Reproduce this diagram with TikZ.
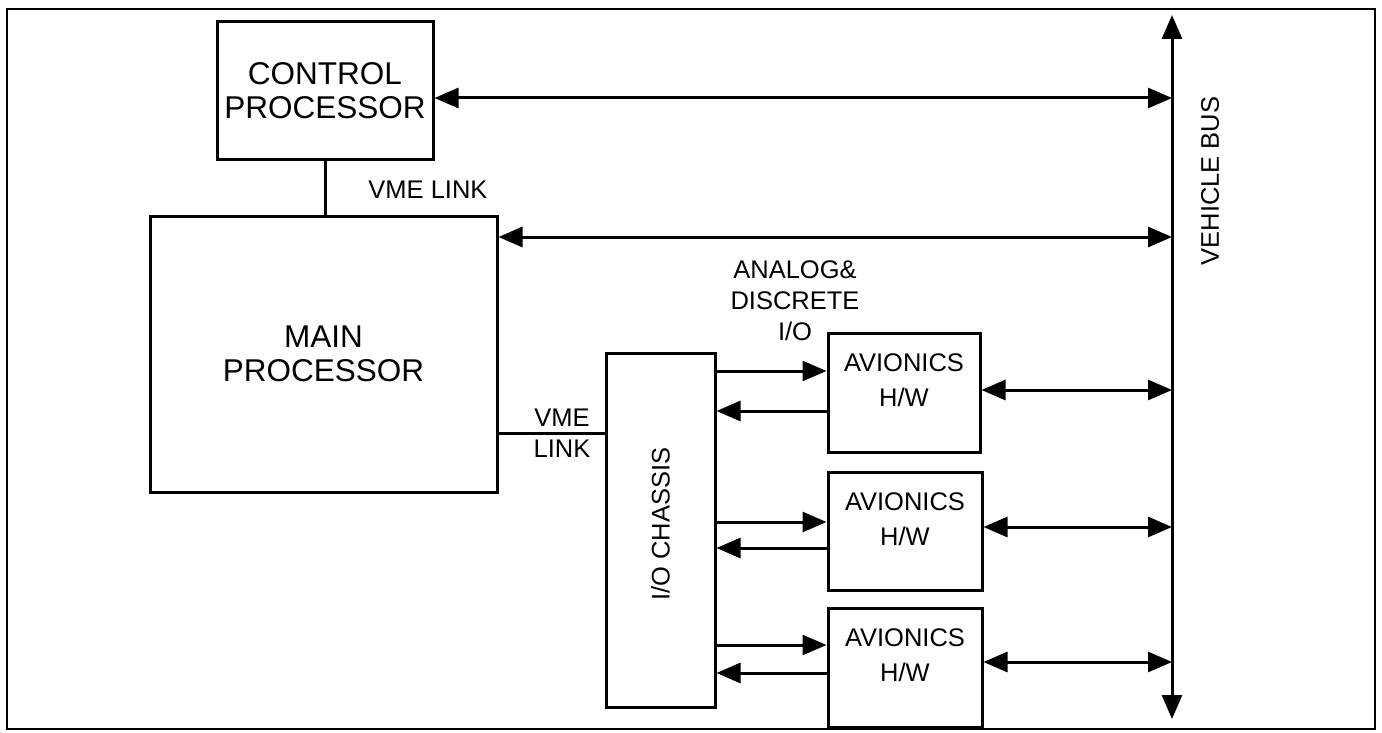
\documentclass[tikz,border=0pt]{standalone}
\usepackage{fontspec}
\setmainfont{Liberation Sans}
\usetikzlibrary{arrows.meta}
\begin{document}
\begin{tikzpicture}[x=1pt,y=-1pt, line width=3pt,
  >={Triangle[length=24pt,width=20pt]},
  box/.style={draw, rectangle, inner sep=0pt, align=center},
  big/.style={font=\fontsize{31.5}{34}\selectfont, align=center, inner sep=0pt},
  small/.style={font=\fontsize{25.5}{31}\selectfont, align=center, inner sep=0pt},
  avtext/.style={font=\fontsize{25.5}{35}\selectfont, align=center, inner sep=0pt}]
\useasboundingbox (0,0) rectangle (1382,733);
\draw[line width=2.6pt] (7,9) rectangle (1375,729);

% boxes
\node[box, minimum width=216pt, minimum height=138pt, big] (cp) at (325,91) {CONTROL\\PROCESSOR};
\node[box, minimum width=347pt, minimum height=276pt, big] (mp) at (323.5,354) {MAIN\\PROCESSOR};
\node[box, minimum width=109pt, minimum height=354pt] (ioc) at (660.5,530) {};
\node[small, rotate=90] (ioct) at ([yshift=6pt]ioc.center) {I/O CHASSIS};
\node[box, minimum width=152pt, minimum height=119pt] (av1) at (904,392.5) {};
\node[box, minimum width=154pt, minimum height=118pt] (av2) at (905,531) {};
\node[box, minimum width=154pt, minimum height=119pt] (av3) at (905,667.5) {};
\node[avtext] (av1t) at ([yshift=12pt]av1.center) {AVIONICS\\H/W};
\node[avtext] (av2t) at ([yshift=12pt]av2.center) {AVIONICS\\H/W};
\node[avtext] (av3t) at ([yshift=12pt]av3.center) {AVIONICS\\H/W};

% vehicle bus
\coordinate (bustop) at (1172,15);
\coordinate (busbot) at (1172,719);
\draw[<->] (bustop) -- (busbot);
\node[small, rotate=90] (vb) at (1210,181) {VEHICLE BUS};

% y levels
\coordinate (y1) at (0,98);
\coordinate (y2) at (0,237);
\coordinate (yv) at (0,433);
\coordinate (b1) at (0,390);
\coordinate (b2) at (0,527);
\coordinate (b3) at (0,662);
\coordinate (r1) at (0,371);
\coordinate (l1) at (0,411);
\coordinate (r2) at (0,522);
\coordinate (l2) at (0,548);
\coordinate (r3) at (0,645);
\coordinate (l3) at (0,673);

% links
\draw (cp.south) -- (cp.south |- mp.north);
\node[small] (vl1) at (428,190) {VME LINK};
\draw (mp.east |- yv) -- (ioc.west |- yv);
\node[small] (vl2a) at (562,418) {VME};
\node[small] (vl2b) at (562,449) {LINK};

\draw[<->] (cp.east |- y1) -- (bustop |- y1);
\draw[<->] (mp.east |- y2) -- (bustop |- y2);
\draw[<->] (av1.east |- b1) -- (bustop |- b1);
\draw[<->] (av2.east |- b2) -- (bustop |- b2);
\draw[<->] (av3.east |- b3) -- (bustop |- b3);

\draw[->] (ioc.east |- r1) -- (av1.west |- r1);
\draw[->] (av1.west |- l1) -- (ioc.east |- l1);
\draw[->] (ioc.east |- r2) -- (av2.west |- r2);
\draw[->] (av2.west |- l2) -- (ioc.east |- l2);
\draw[->] (ioc.east |- r3) -- (av3.west |- r3);
\draw[->] (av3.west |- l3) -- (ioc.east |- l3);

\node[small] (adio) at (795,301) {ANALOG\&\\DISCRETE\\I/O};
\end{tikzpicture}
\end{document}
